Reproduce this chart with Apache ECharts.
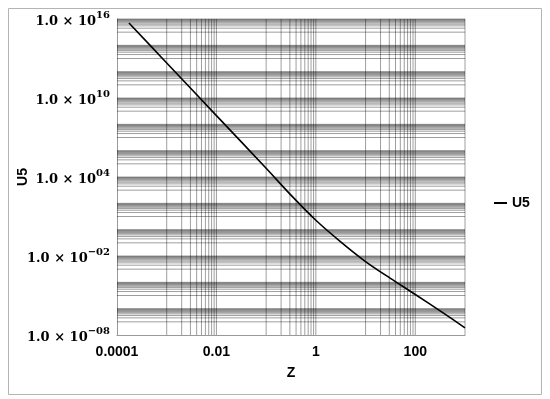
<!DOCTYPE html>
<html>
<head>
<meta charset="utf-8">
<script src="https://cdn.jsdelivr.net/npm/echarts@6/dist/echarts.min.js"></script>
<style>html,body{margin:0;padding:0;background:#fff;}#c{width:550px;height:399px;}</style>
</head>
<body>
<div id="c"></div>
<script>
// Data
const zValues = [1.74e-4, 1e-3, 1e-2, 0.1, 0.316, 1, 3.16, 10, 31.6, 100, 316, 1000];
const u5Values = [5.0e15, 4.6e12, 4.6e8, 4.6e4, 4.2e2, 5.2, 1.2e-1, 3.8e-3, 2.0e-4, 1.2e-5, 6.8e-7, 3.5e-8];
const xTickValues = [0.0001, 0.01, 1, 100];
const xTickLabels = ['0.0001', '0.01', '1', '100'];
const yTickExponents = [16, 10, 4, -2, -8];
const yTickLabels = ['16', '10', '04', '\u221202', '\u221208'];
const gridMultipliers = [1, 2, 3, 4, 5, 6, 7, 8, 9, 10];
const xGridExponents = [-3, -1, 1, 3];
const yGridExponents = [-7, -5, -3, -1, 1, 3, 5, 7, 9, 11, 13, 15];

const X_MIN = 1e-4, X_MAX = 1e3, Y_MIN = 1e-8, Y_MAX = 1e16;

const vLines = [];
xGridExponents.forEach(e => gridMultipliers.forEach(k => {
  const v = k * Math.pow(10, e);
  if (v <= X_MAX * 1.0001) vLines.push([v, Y_MIN]);
}));
const hLines = [];
yGridExponents.forEach(e => gridMultipliers.forEach(k => {
  const v = k * Math.pow(10, e);
  if (v <= Y_MAX * 1.0001) hLines.push([X_MIN, v]);
}));

function near(a, b) { return Math.abs(Math.log10(a) - Math.log10(b)) < 1e-6; }

const gridStyle = { stroke: 'rgba(0,0,0,0.38)', lineWidth: 1, fill: null };

const chart = echarts.init(document.getElementById('c'), null, { renderer: 'canvas' });
chart.setOption({
  animation: false,
  backgroundColor: '#fff',
  graphic: [{
    type: 'rect', left: 6, top: 6, shape: { width: 533, height: 386 },
    style: { fill: 'none', stroke: '#b4b4b4', lineWidth: 1 }, silent: true, z: -10
  }],
  grid: { left: 117, right: 85, top: 19, bottom: 64, containLabel: false, outerBoundsMode: 'none' },
  legend: {
    data: ['U5'], left: 489, top: 191, icon: 'rect', itemWidth: 13, itemHeight: 2,
    textStyle: { fontFamily: 'Liberation Sans', fontWeight: 'bold', fontSize: 14, color: '#000' }
  },
  xAxis: {
    type: 'log', logBase: 10, min: X_MIN, max: X_MAX, interval: 2,
    name: 'Z', nameLocation: 'middle', nameGap: 31, nameMoveOverlap: false,
    nameTextStyle: { fontFamily: 'Liberation Sans', fontWeight: 'bold', fontSize: 14, color: '#000' },
    axisLine: { show: true, onZero: false, lineStyle: { color: '#999', width: 1 } },
    axisTick: { show: false },
    splitLine: { show: false },
    axisLabel: {
      margin: 10, fontFamily: 'Liberation Sans', fontWeight: 'bold', fontSize: 14, color: '#000',
      showMaxLabel: false,
      formatter: function (v) {
        for (let i = 0; i < xTickValues.length; i++) if (near(v, xTickValues[i])) return xTickLabels[i];
        return '';
      }
    }
  },
  yAxis: {
    type: 'log', logBase: 10, min: Y_MIN, max: Y_MAX, interval: 6,
    name: 'U5', nameLocation: 'middle', nameGap: 87, nameRotate: 90, nameMoveOverlap: false,
    nameTextStyle: { fontFamily: 'Liberation Sans', fontWeight: 'bold', fontSize: 14, color: '#000' },
    axisLine: { show: true, onZero: false, lineStyle: { color: '#999', width: 1 } },
    axisTick: { show: false },
    splitLine: { show: false },
    axisLabel: {
      margin: 7,
      formatter: function (v) {
        const e = Math.round(Math.log10(v));
        const i = yTickExponents.indexOf(e);
        if (i < 0) return '';
        return '{a|1.0 \u00d7 10}{b|' + yTickLabels[i] + '}';
      },
      rich: {
        a: { fontFamily: 'DejaVu Serif', fontWeight: 'bold', fontSize: 13, color: '#000', lineHeight: 18, verticalAlign: 'bottom' },
        b: { fontFamily: 'DejaVu Serif', fontWeight: 'bold', fontSize: 10, color: '#000', lineHeight: 18, verticalAlign: 'top' }
      }
    }
  },
  series: [
    {
      name: 'vgrid', type: 'custom', data: vLines, silent: true, z: 1, clip: false,
      renderItem: function (params, api) {
        const v = api.value(0);
        const p1 = api.coord([v, Y_MIN]);
        const p2 = api.coord([v, Y_MAX]);
        return { type: 'line', shape: { x1: p1[0], y1: p1[1], x2: p2[0], y2: p2[1] }, style: gridStyle, silent: true };
      }
    },
    {
      name: 'hgrid', type: 'custom', data: hLines, silent: true, z: 1, clip: false,
      renderItem: function (params, api) {
        const v = api.value(1);
        const p1 = api.coord([X_MIN, v]);
        const p2 = api.coord([X_MAX, v]);
        return { type: 'line', shape: { x1: p1[0], y1: p1[1], x2: p2[0], y2: p2[1] }, style: gridStyle, silent: true };
      }
    },
    {
      name: 'U5', type: 'line', data: zValues.map((z, i) => [z, u5Values[i]]),
      showSymbol: false, smooth: 0.3, z: 5,
      lineStyle: { color: '#000', width: 1.6 }, itemStyle: { color: '#000' }
    }
  ]
});
</script>
</body>
</html>
